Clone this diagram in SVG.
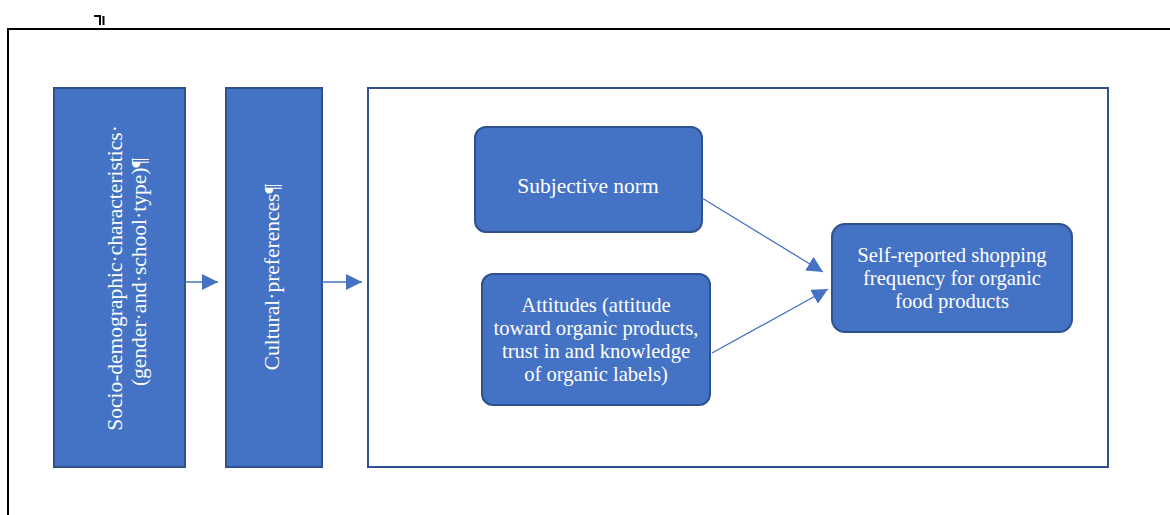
<svg xmlns="http://www.w3.org/2000/svg" width="1170" height="515" viewBox="0 0 1170 515">
<style>
.blue{fill:#4472C4;stroke:#2F528F;stroke-width:2}
.t{font-family:"Liberation Serif",serif;font-size:21.5px;fill:#ffffff;text-anchor:middle}
.m{font-size:20.6px}
.conn{stroke:#4472C4;stroke-width:1.3;fill:none}
</style>
<defs>
<marker id="ahb" markerWidth="16" markerHeight="16" refX="16" refY="8" orient="auto" markerUnits="userSpaceOnUse" viewBox="0 0 16 16">
<path d="M0,0 L16,8 L0,16 z" fill="#4472C4"/>
</marker>
</defs>
<rect width="1170" height="515" fill="#ffffff"/>
<g id="frame">
<path d="M8,515 V29 H1170" fill="none" stroke="#000" stroke-width="2"/>
<path d="M94,16 H100 V25 M103.5,16 V25" fill="none" stroke="#000" stroke-width="2"/>
</g>
<g id="socio">
<rect class="blue" x="54" y="88" width="131" height="379"/>
<text class="t" transform="rotate(-90)"><tspan x="-278" y="122">Socio-demographic·characteristics·</tspan><tspan x="-272" y="146">(gender·and·school·type)¶</tspan></text>
</g>
<g id="cultural">
<rect class="blue" x="226" y="88" width="96" height="379"/>
<text class="t" transform="translate(279,277) rotate(-90)">Cultural·preferences¶</text>
</g>
<g id="container">
<rect x="368" y="88" width="740" height="379" fill="#ffffff" stroke="#2F528F" stroke-width="2"/>
</g>
<g id="subjective">
<rect class="blue" x="475" y="127" width="227" height="105" rx="11"/>
<text class="t" x="588" y="193">Subjective norm</text>
</g>
<g id="attitudes">
<rect class="blue" x="482" y="274" width="228" height="131" rx="11"/>
<text class="t m"><tspan x="596" y="312">Attitudes (attitude</tspan><tspan x="596" y="335">toward organic products,</tspan><tspan x="596" y="358">trust in and knowledge</tspan><tspan x="596" y="381">of organic labels)</tspan></text>
</g>
<g id="selfreported">
<rect class="blue" x="832" y="224" width="240" height="108" rx="13"/>
<text class="t m"><tspan x="952" y="262">Self-reported shopping</tspan><tspan x="952" y="285">frequency for organic</tspan><tspan x="952" y="308">food products</tspan></text>
</g>
<g id="connectors">
<line class="conn" x1="185" y1="282" x2="218" y2="282" marker-end="url(#ahb)"/>
<line class="conn" x1="322" y1="282" x2="362" y2="282" marker-end="url(#ahb)"/>
<line class="conn" x1="702" y1="198" x2="823" y2="272" marker-end="url(#ahb)"/>
<line class="conn" x1="712" y1="353" x2="828" y2="289" marker-end="url(#ahb)"/>
</g>
</svg>
